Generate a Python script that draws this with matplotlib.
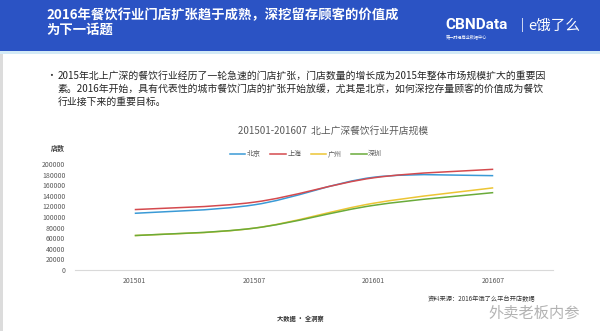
import matplotlib
matplotlib.use("Agg")
import matplotlib.pyplot as plt
import numpy as np
from matplotlib.path import Path
from matplotlib.patches import PathPatch, Rectangle
from matplotlib.lines import Line2D

plt.rcParams['font.family'] = ['Noto Sans CJK SC', 'DejaVu Sans']

# data
months = ['201501', '201507', '201601', '201607']
cities = ['北京', '上海', '广州', '深圳']
beijing = [107000, 123000, 175000, 178000]
shanghai = [114000, 128000, 174000, 190000]
guangzhou = [65000, 79000, 126000, 155000]
shenzhen = [65000, 79000, 122000, 146000]
yticks = list(range(0, 200001, 20000))

colors = ['#3a9ad6', '#d44a4e', '#ecc534', '#6aab3a']
W, H = 600, 331


def fx(x):
    return x / W


def fy(y):
    return 1 - y / H


def smooth_path(xs, ys):
    # excel-style smoothed line: catmull-rom segments as cubic beziers
    pts = np.column_stack([xs, ys]).astype(float)
    ext = np.vstack([pts[0], pts, pts[-1]])
    verts = [pts[0]]
    codes = [Path.MOVETO]
    for i in range(len(pts) - 1):
        p0, p1, p2, p3 = ext[i], ext[i + 1], ext[i + 2], ext[i + 3]
        verts += [p1 + (p2 - p0) / 6, p2 - (p3 - p1) / 6, p2]
        codes += [Path.CURVE4] * 3
    return Path(verts, codes)


fig = plt.figure(figsize=(6, 3.31), dpi=100)
fig.patch.set_facecolor('white')

# header band
fig.patches.append(Rectangle((0, fy(51)), 1, 51 / H, transform=fig.transFigure,
                             facecolor='#2b53c4', edgecolor='none', zorder=0))
fig.patches.append(Rectangle((0, fy(54)), 1, 3 / H, transform=fig.transFigure,
                             facecolor='#d3eaf6', edgecolor='none', zorder=0))
fig.patches.append(Rectangle((0, 0), 3 / W, fy(54), transform=fig.transFigure,
                             facecolor='#dcdcdc', edgecolor='none', zorder=0))

fig.text(fx(46), fy(15), '2016年餐饮行业门店扩张趋于成熟，深挖留存顾客的价值成',
         color='white', fontsize=9.6, fontweight='bold', va='center', ha='left')
fig.text(fx(46), fy(30), '为下一话题',
         color='white', fontsize=9.6, fontweight='bold', va='center', ha='left')
fig.text(fx(445), fy(25), 'CBNData', color='white', fontsize=11, fontweight='bold',
         va='center', ha='left', family=['Roboto', 'DejaVu Sans'])
fig.text(fx(446), fy(36.5), '第一财经商业数据中心', color='white', fontsize=3,
         va='center', ha='left')
fig.text(fx(522), fy(25), '|', color='white', fontsize=9, va='center', ha='center')
fig.text(fx(528), fy(25.5), 'e饿了么', color='white', fontsize=10.5,
         va='center', ha='left')

# bullet paragraph
para = ['2015年北上广深的餐饮行业经历了一轮急速的门店扩张，门店数量的增长成为2015年整体市场规模扩大的重要因',
        '素。2016年开始，具有代表性的城市餐饮门店的扩张开始放缓，尤其是北京，如何深挖存量顾客的价值成为餐饮',
        '行业接下来的重要目标。']
fig.text(fx(46), fy(76), '•', color='#333333', fontsize=7, va='center', ha='left')
for i, line in enumerate(para):
    fig.text(fx(58), fy(76 + 13 * i), line, color='#262626', fontsize=7.1,
             va='center', ha='left')

# chart
fig.text(fx(333), fy(131), '201501-201607  北上广深餐饮行业开店规模',
         color='#595959', fontsize=7, va='center', ha='center')

ax = fig.add_axes([fx(75), fy(270), (553 - 75) / W, (270 - 164) / H])
ax.set_facecolor('none')
x = np.arange(len(months))
series = [beijing, shanghai, guangzhou, shenzhen]
for vals, c in zip(series, colors):
    ax.add_patch(PathPatch(smooth_path(x, vals), facecolor='none', edgecolor=c,
                           lw=1.1, capstyle='butt'))
ax.set_xlim(-0.5, len(months) - 0.5)
ax.set_ylim(0, 200000)
ax.set_xticks(x)
ax.set_xticklabels(months)
ax.set_yticks(yticks)
ax.set_yticklabels([str(v) for v in yticks])
ax.tick_params(axis='both', length=0, labelsize=5, colors='#595959')
ax.tick_params(axis='x', pad=5)
ax.tick_params(axis='y', pad=7)
for s in ['top', 'right', 'left']:
    ax.spines[s].set_visible(False)
ax.spines['bottom'].set_color('#d9d9d9')
ax.spines['bottom'].set_linewidth(0.8)

fig.text(fx(58), fy(148), '店数', color='#404040', fontsize=5, fontweight='bold',
         va='center', ha='center')

handles = [Line2D([], [], color=c, lw=1.1) for c in colors]
fig.legend(handles, cities, loc='center', bbox_to_anchor=(fx(306), fy(154)),
           ncol=4, frameon=False, fontsize=5, handlelength=2.2, handletextpad=0.2,
           columnspacing=1.4, labelcolor='#595959')

# footer
fig.text(fx(428), fy(299), '资料来源：2016年饿了么平台开店数据', color='#333333',
         fontsize=4.5, va='center', ha='left')
fig.text(fx(488), fy(313), '外卖老板内参', color='#a0a0a0', fontsize=11,
         va='center', ha='left', alpha=0.8)
fig.text(fx(300), fy(319), '大数据 · 全洞察', color='#333333', fontsize=4.5,
         fontweight='bold', va='center', ha='center')

fig.savefig('out.png', dpi=100)
